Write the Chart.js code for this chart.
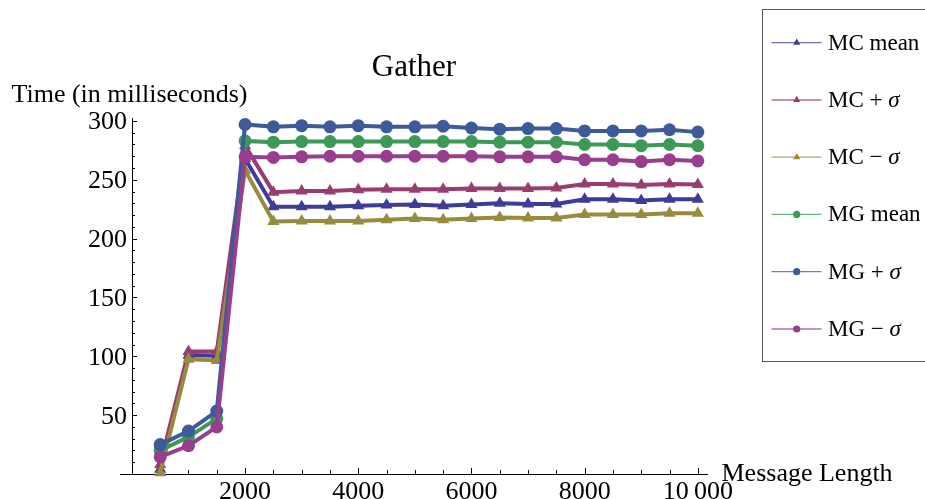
<!DOCTYPE html>
<html><head><meta charset="utf-8">
<script src="https://cdn.jsdelivr.net/npm/chart.js@4.4.0/dist/chart.umd.min.js"></script>
<style>html,body{margin:0;padding:0;background:#fff;overflow:hidden}#wrap{width:925px;height:499px;position:relative}</style>
</head><body><div id="wrap"><canvas id="c" width="925" height="499"></canvas></div>
<script>
// ---- data ----
const messageLengths = [500,1000,1500,2000,2500,3000,3500,4000,4500,5000,5500,6000,6500,7000,7500,8000,8500,9000,9500,10000];
const mcMean  = [4, 101, 100.5, 268, 227, 227, 227, 228, 228.5, 229, 228, 229, 230, 229.5, 229.5, 233.5, 233.5, 232.5, 233.5, 233.5];
const mcPlus  = [8, 104, 104, 279, 239.5, 240.5, 240.5, 241.5, 242, 242, 242, 242.5, 242.5, 242.5, 243, 246.5, 246.5, 245.5, 246.5, 246];
const mcMinus = [1, 97.5, 96.5, 258, 214.5, 215, 215, 215, 216, 217, 216, 217, 218, 217.5, 217.5, 220.5, 220.5, 220.5, 221.5, 221.5];
const mgMean  = [20, 31.5, 47, 283, 282, 282.5, 282.5, 282.5, 282.5, 282.5, 282.5, 282.5, 282, 282, 282, 280, 280, 279, 280, 279];
const mgPlus  = [25, 36.5, 53.5, 297, 295, 296, 295, 296, 295, 295, 295.5, 294, 293, 293.5, 293.5, 291.5, 291.5, 291.5, 292.5, 290.5];
const mgMinus = [14.5, 24, 40, 269.5, 269, 269.5, 270, 270, 270, 270, 270, 270, 269.5, 269.5, 269.5, 267, 267, 265.5, 267, 266];
const seriesLabels = ['MC mean', 'MC + σ', 'MC − σ', 'MG mean', 'MG + σ', 'MG − σ'];
const xTickValues = [2000, 4000, 6000, 8000, 10000];
const xTickLabels = ['2000', '4000', '6000', '8000', '10\u2009000'];
const yTickValues = [50, 100, 150, 200, 250, 300];
const yTickLabels = ['50', '100', '150', '200', '250', '300'];
const chartTitle = 'Gather';
const yAxisTitle = 'Time (in milliseconds)';
const xAxisTitle = 'Message Length';

// ---- styles ----
const seriesValues = [mcMean, mcPlus, mcMinus, mgMean, mgPlus, mgMinus];
const colors = ['#3d3d99', '#993d71', '#998b3d', '#3d9956', '#3d5a99', '#993d8f'];
const shapes = ['triangle','triangle','triangle','circle','circle','circle'];
const FONT = '"Liberation Serif", "Times New Roman", serif';

const datasets = seriesValues.map((vals, i) => ({
  label: seriesLabels[i],
  data: messageLengths.map((x, j) => ({x: x, y: vals[j]})),
  borderColor: colors[i],
  backgroundColor: colors[i],
  borderWidth: 4,
  tension: 0,
  pointStyle: shapes[i],
  pointRadius: shapes[i] === 'triangle' ? 7 : 6.5,
  pointBorderWidth: 0,
  pointBackgroundColor: colors[i],
  clip: false,
  order: 6 - i
}));

const mathematicaAxes = {
  id: 'mathematicaAxes',
  beforeDatasetsDraw(chart) {
    const ctx = chart.ctx, xs = chart.scales.x, ys = chart.scales.y;
    const x0 = xs.getPixelForValue(0), y0 = ys.getPixelForValue(0);
    ctx.save();
    ctx.strokeStyle = '#000';
    ctx.lineWidth = 1;
    ctx.beginPath();
    ctx.moveTo(chart.chartArea.left, Math.round(y0) + 0.5);
    ctx.lineTo(chart.chartArea.right, Math.round(y0) + 0.5);
    ctx.moveTo(Math.round(x0) + 0.5, chart.chartArea.top);
    ctx.lineTo(Math.round(x0) + 0.5, Math.round(y0) + 1);
    // x ticks every 500
    for (let v = 500; v <= 10000; v += 500) {
      const px = Math.round(xs.getPixelForValue(v)) + 0.5;
      const len = (v % 2000 === 0) ? 6 : 4;
      ctx.moveTo(px, Math.round(y0));
      ctx.lineTo(px, Math.round(y0) - len);
    }
    // y ticks every 10
    for (let v = 10; v <= 300; v += 10) {
      const py = Math.round(ys.getPixelForValue(v)) + 0.5;
      const len = (v % 50 === 0) ? 5 : 3;
      ctx.moveTo(Math.round(x0), py);
      ctx.lineTo(Math.round(x0) + len, py);
    }
    ctx.stroke();
    ctx.restore();
  },
  afterDraw(chart) {
    const ctx = chart.ctx, xs = chart.scales.x, ys = chart.scales.y;
    const x0 = xs.getPixelForValue(0);
    ctx.save();
    ctx.fillStyle = '#000';
    ctx.font = '26px ' + FONT;
    // y tick labels
    ctx.textAlign = 'right';
    ctx.textBaseline = 'alphabetic';
    yTickValues.forEach((v, i) => {
      ctx.fillText(yTickLabels[i], x0 - 5, ys.getPixelForValue(v) + 8.5);
    });
    // x tick labels
    ctx.textAlign = 'center';
    xTickValues.forEach((v, i) => {
      ctx.fillText(xTickLabels[i], xs.getPixelForValue(v), 498.5);
    });
    // axis titles
    ctx.textAlign = 'left';
    ctx.fillText(yAxisTitle, 11.5, 102);
    ctx.fillText(xAxisTitle, 721.5, 481);
    // chart title
    ctx.font = '31px ' + FONT;
    ctx.textAlign = 'center';
    ctx.fillText(chartTitle, 414, 76);

    // legend
    ctx.strokeStyle = '#555';
    ctx.lineWidth = 1;
    ctx.strokeRect(762.5, 9.5, 200, 352);
    const rowY = [42.7, 100, 157.2, 214.4, 271.7, 329];
    chart.data.datasets.forEach((ds, i) => {
      const yc = rowY[i];
      ctx.strokeStyle = ds.borderColor;
      ctx.globalAlpha = 0.75;
      ctx.lineWidth = 1.3;
      ctx.beginPath();
      ctx.moveTo(771.5, yc);
      ctx.lineTo(821.5, yc);
      ctx.stroke();
      ctx.globalAlpha = 1;
      ctx.fillStyle = ds.borderColor;
      ctx.beginPath();
      if (ds.pointStyle === 'triangle') {
        const r = 4.2;
        ctx.moveTo(796.7, yc - r);
        ctx.lineTo(796.7 + r * 0.866, yc + r * 0.5);
        ctx.lineTo(796.7 - r * 0.866, yc + r * 0.5);
        ctx.closePath();
      } else {
        ctx.arc(796.7, yc, 3.6, 0, Math.PI * 2);
      }
      ctx.fill();
      // label with italic sigma
      ctx.fillStyle = '#000';
      ctx.textAlign = 'left';
      let x = 828;
      const parts = ds.label.split('σ');
      ctx.font = '23px ' + FONT;
      ctx.fillText(parts[0], x, yc + 7);
      if (parts.length > 1) {
        x += ctx.measureText(parts[0]).width;
        ctx.font = 'italic 23px ' + FONT;
        ctx.fillText('σ', x, yc + 7);
      }
    });
    ctx.restore();
  }
};

new Chart(document.getElementById('c'), {
  type: 'line',
  data: { datasets: datasets },
  options: {
    responsive: false,
    animation: false,
    devicePixelRatio: 1,
    layout: { padding: { left: 120, top: 118, right: 217, bottom: 25 } },
    plugins: { legend: { display: false }, title: { display: false }, tooltip: { enabled: false } },
    scales: {
      x: { type: 'linear', min: -210, max: 10180, display: false },
      y: { type: 'linear', min: 0, max: 302.5, display: false }
    }
  },
  plugins: [mathematicaAxes]
});
</script>
</body></html>
